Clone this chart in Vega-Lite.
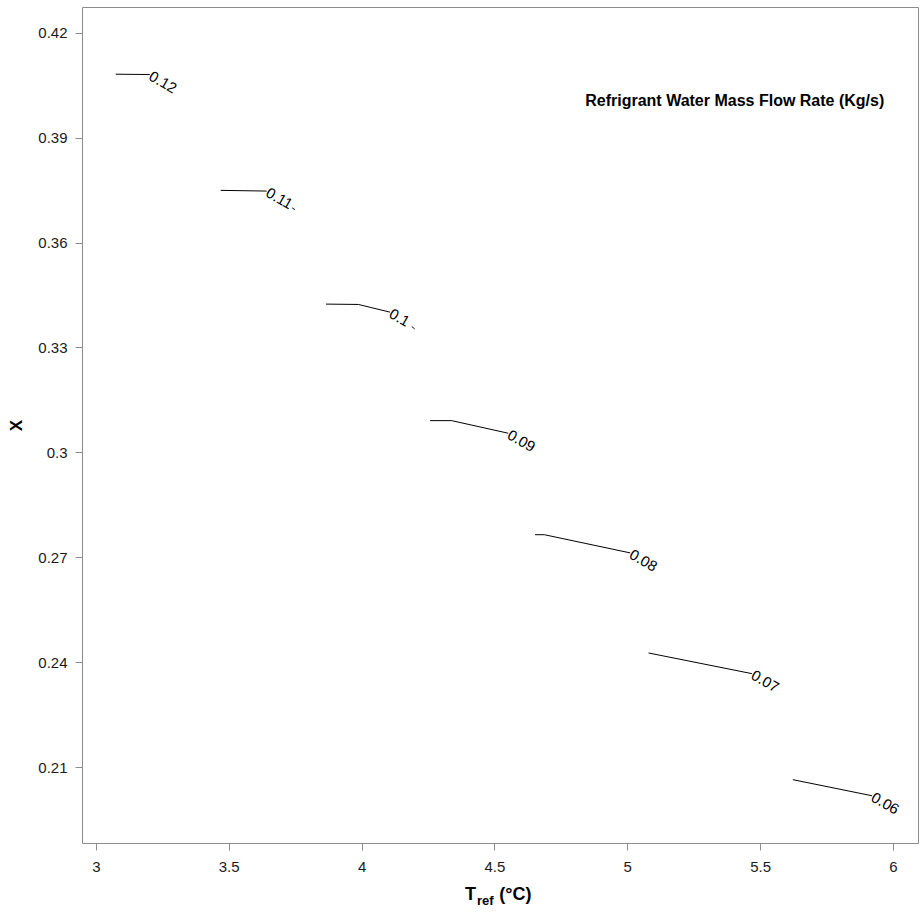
{
  "$schema": "https://vega.github.io/schema/vega-lite/v6.json",
  "width": 836,
  "height": 836,
  "autosize": {"type": "none"},
  "padding": {"left": 82, "top": 7, "right": 4, "bottom": 69},
  "background": "white",
  "config": {
    "font": "Liberation Sans",
    "view": {"stroke": "#8c8c8c", "strokeWidth": 1},
    "axis": {
      "grid": false,
      "domain": false,
      "tickColor": "#8c8c8c",
      "tickSize": 7,
      "labelFont": "Liberation Sans",
      "labelFontSize": 15,
      "labelColor": "#1a1a1a",
      "titleFont": "Liberation Sans",
      "titleFontWeight": "bold",
      "titleFontSize": 17,
      "titleColor": "#000000"
    }
  },
  "datasets": {
    "lines": [
      {"level": "0.12", "seg": "a", "tref": 3.075, "x": 0.4081},
      {"level": "0.12", "seg": "a", "tref": 3.203, "x": 0.4080},
      {"level": "0.11", "seg": "a", "tref": 3.470, "x": 0.3749},
      {"level": "0.11", "seg": "a", "tref": 3.643, "x": 0.3747},
      {"level": "0.11", "seg": "b", "tref": 3.739, "x": 0.3699},
      {"level": "0.11", "seg": "b", "tref": 3.749, "x": 0.3694},
      {"level": "0.1", "seg": "a", "tref": 3.866, "x": 0.3424},
      {"level": "0.1", "seg": "a", "tref": 3.988, "x": 0.3423},
      {"level": "0.1", "seg": "a", "tref": 4.107, "x": 0.3401},
      {"level": "0.1", "seg": "b", "tref": 4.189, "x": 0.3360},
      {"level": "0.1", "seg": "b", "tref": 4.200, "x": 0.3353},
      {"level": "0.09", "seg": "a", "tref": 4.258, "x": 0.3091},
      {"level": "0.09", "seg": "a", "tref": 4.339, "x": 0.3091},
      {"level": "0.09", "seg": "a", "tref": 4.552, "x": 0.3055},
      {"level": "0.08", "seg": "a", "tref": 4.653, "x": 0.2765},
      {"level": "0.08", "seg": "a", "tref": 4.688, "x": 0.2765},
      {"level": "0.08", "seg": "a", "tref": 5.011, "x": 0.2713},
      {"level": "0.07", "seg": "a", "tref": 5.080, "x": 0.2427},
      {"level": "0.07", "seg": "a", "tref": 5.469, "x": 0.2368},
      {"level": "0.06", "seg": "a", "tref": 5.623, "x": 0.2065},
      {"level": "0.06", "seg": "a", "tref": 5.921, "x": 0.2019}
    ],
    "labels": [
      {"level": "0.12", "tref": 3.205, "x": 0.4079},
      {"level": "0.11", "tref": 3.645, "x": 0.3746},
      {"level": "0.1", "tref": 4.109, "x": 0.3400},
      {"level": "0.09", "tref": 4.554, "x": 0.3054},
      {"level": "0.08", "tref": 5.013, "x": 0.2712},
      {"level": "0.07", "tref": 5.471, "x": 0.2367},
      {"level": "0.06", "tref": 5.923, "x": 0.2018}
    ]
  },
  "layer": [
    {
      "data": {"name": "lines"},
      "mark": {"type": "line", "color": "#000000", "strokeWidth": 1},
      "encoding": {
        "x": {
          "field": "tref", "type": "quantitative",
          "scale": {"domain": [2.948, 6.094], "nice": false, "zero": false},
          "axis": {"values": [3, 3.5, 4, 4.5, 5, 5.5, 6], "format": "~g", "labelPadding": 9, "title": null}
        },
        "y": {
          "field": "x", "type": "quantitative",
          "scale": {"domain": [0.1884, 0.4273], "nice": false, "zero": false},
          "axis": {"values": [0.21, 0.24, 0.27, 0.3, 0.33, 0.36, 0.39, 0.42], "format": "~g", "labelPadding": 8, "title": "X", "titlePadding": 12}
        },
        "detail": [{"field": "level"}, {"field": "seg"}],
        "order": {"field": "tref", "type": "quantitative"}
      }
    },
    {
      "data": {"name": "labels"},
      "mark": {"type": "text", "align": "left", "baseline": "middle", "angle": 30, "fontSize": 15, "color": "#000000", "dx": 0},
      "encoding": {
        "x": {"field": "tref", "type": "quantitative"},
        "y": {"field": "x", "type": "quantitative"},
        "text": {"field": "level"}
      }
    },
    {
      "data": {"values": [{"tref": 5.967, "x": 0.4005, "t": "Refrigrant Water Mass Flow Rate (Kg/s)"}]},
      "mark": {"type": "text", "align": "right", "baseline": "middle", "fontSize": 16, "fontWeight": "bold", "color": "#000000"},
      "encoding": {
        "x": {"field": "tref", "type": "quantitative"},
        "y": {"field": "x", "type": "quantitative"},
        "text": {"field": "t"}
      }
    },
    {
      "data": {"values": [{"tref": 4.389, "x": 0.1722, "t": "T"}, {"tref": 4.518, "x": 0.1722, "t": "(°C)"}]},
      "mark": {"type": "text", "align": "left", "baseline": "alphabetic", "fontSize": 18, "fontWeight": "bold", "color": "#000000"},
      "encoding": {
        "x": {"field": "tref", "type": "quantitative"},
        "y": {"field": "x", "type": "quantitative"},
        "text": {"field": "t"}
      }
    },
    {
      "data": {"values": [{"tref": 4.4345, "x": 0.1708, "t": "ref"}]},
      "mark": {"type": "text", "align": "left", "baseline": "alphabetic", "fontSize": 13, "fontWeight": "bold", "color": "#000000"},
      "encoding": {
        "x": {"field": "tref", "type": "quantitative"},
        "y": {"field": "x", "type": "quantitative"},
        "text": {"field": "t"}
      }
    }
  ]
}
